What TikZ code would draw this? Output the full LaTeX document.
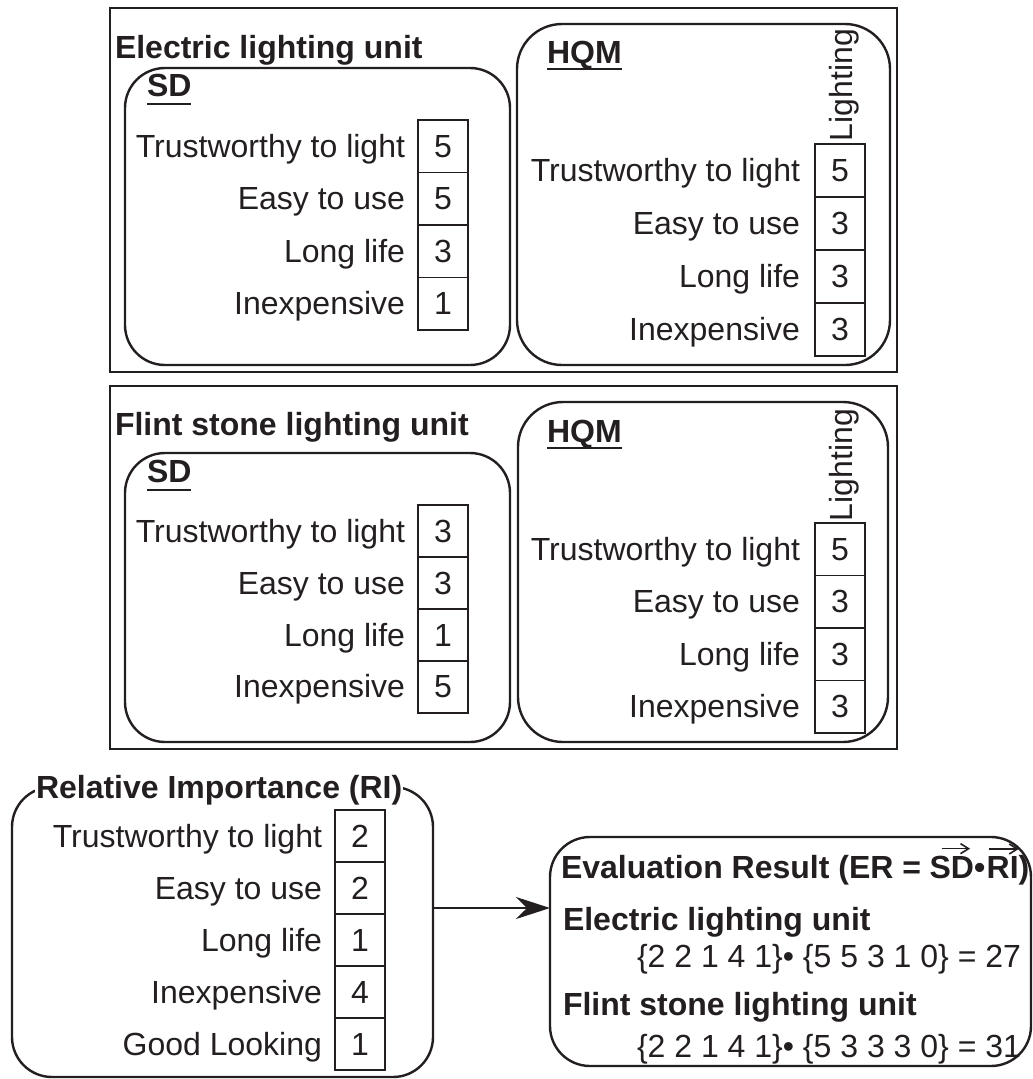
\documentclass[tikz,border=0pt]{standalone}
\usepackage{fontspec}
\setmainfont{Liberation Sans}
\usetikzlibrary{arrows.meta,calc}
\definecolor{ink}{HTML}{231F20}

\begin{document}
\begin{tikzpicture}[x=1pt,y=-1pt,
  every node/.style={inner sep=0pt, outer sep=0pt, text=ink, font=\fontsize{32}{38}\selectfont},
  frame/.style={draw=ink, line width=2pt, anchor=north west},
  roundbox/.style={draw=ink, line width=2.4pt, rounded corners=40pt, anchor=north west},
  head/.style={font=\fontsize{32}{38}\selectfont\bfseries, anchor=base west},
  lbl/.style={anchor=base east},
  cell/.style={draw=ink, line width=1.6pt, minimum width=50pt, anchor=north west},
  ul/.style={draw=ink, line width=2pt},
  vec/.style={draw=ink, line width=1.6pt, -{Straight Barb[length=8pt,width=10pt]}},
  flow/.style={draw=ink, line width=2.2pt, -{Stealth[length=34pt,width=22pt,inset=11pt]}}
]
\useasboundingbox (0,0) rectangle (1033,1079);

% ---------- electric lighting unit ----------
\node[frame, minimum width=787pt, minimum height=364pt] (p1) at (110,8) {};
\node[head] (p1t) at (115,58) {Electric lighting unit};
\node[roundbox, minimum width=385pt, minimum height=297pt] (sd1) at (125,68) {};
\node[head] (sd1h) at (147,96) {SD};
\draw[ul] ([yshift=-8pt]sd1h.base west) -- ([yshift=-8pt]sd1h.base east);
\foreach \t/\v [count=\i from 0] in {Trustworthy to light/5, Easy to use/5, Long life/3, Inexpensive/1}{
  \node[cell, minimum height=52.5pt] (sd1c\i) at (418,120+52.5*\i) {\v};
  \node[lbl] (sd1l\i) at ([xshift=-13pt]sd1c\i.base west) {\t};
}
\node[roundbox, rounded corners=45pt, minimum width=373pt, minimum height=341pt] (hq1) at (517,24) {};
\node[head] (hq1h) at (547,63) {HQM};
\draw[ul] ([yshift=-6pt]hq1h.base west) -- ([yshift=-6pt]hq1h.base east);
\foreach \t/\v [count=\i from 0] in {Trustworthy to light/5, Easy to use/3, Long life/3, Inexpensive/3}{
  \node[cell, minimum height=53pt] (hq1c\i) at (815,144+53*\i) {\v};
  \node[lbl] (hq1l\i) at ([xshift=-15pt]hq1c\i.base west) {\t};
}
\node[rotate=90, anchor=base west] (hq1v) at (852,141) {Lighting};

% ---------- flint stone lighting unit ----------
\node[frame, minimum width=787pt, minimum height=363pt] (p2) at (110,386) {};
\node[head] (p2t) at (115,435) {Flint stone lighting unit};
\node[roundbox, minimum width=385pt, minimum height=289pt] (sd2) at (125,453) {};
\node[head] (sd2h) at (147,482) {SD};
\draw[ul] ([yshift=-8pt]sd2h.base west) -- ([yshift=-8pt]sd2h.base east);
\foreach \t/\v [count=\i from 0] in {Trustworthy to light/3, Easy to use/3, Long life/1, Inexpensive/5}{
  \node[cell, minimum height=52pt] (sd2c\i) at (418,505+52*\i) {\v};
  \node[lbl] (sd2l\i) at ([xshift=-13pt]sd2c\i.base west) {\t};
}
\node[roundbox, rounded corners=45pt, minimum width=370pt, minimum height=340pt] (hq2) at (518,402) {};
\node[head] (hq2h) at (547,442) {HQM};
\draw[ul] ([yshift=-6pt]hq2h.base west) -- ([yshift=-6pt]hq2h.base east);
\foreach \t/\v [count=\i from 0] in {Trustworthy to light/5, Easy to use/3, Long life/3, Inexpensive/3}{
  \node[cell, minimum height=52.5pt] (hq2c\i) at (815,523+52.5*\i) {\v};
  \node[lbl] (hq2l\i) at ([xshift=-15pt]hq2c\i.base west) {\t};
}
\node[rotate=90, anchor=base west] (hq2v) at (852,521) {Lighting};

% ---------- relative importance ----------
\node[roundbox, minimum width=421pt, minimum height=290pt] (ri) at (12,787) {};
\node[head, fill=white, inner xsep=1pt] (rih) at (35,798) {Relative Importance (RI)};
\foreach \t/\v [count=\i from 0] in {Trustworthy to light/2, Easy to use/2, Long life/1, Inexpensive/4, Good Looking/1}{
  \node[cell, minimum height=52pt] (ric\i) at (335,810+52*\i) {\v};
  \node[lbl] (ril\i) at ([xshift=-13pt]ric\i.base west) {\t};
}

% ---------- evaluation result ----------
\node[roundbox, minimum width=481pt, minimum height=229pt] (er) at (550,837) {};
\node[head] (ert) at (561,878) {Evaluation Result (ER =};
\node[head] (ersd) at ([xshift=8.5pt]ert.base east) {SD};
\node[head] (erdot) at (ersd.base east) {•};
\node[head] (erri) at ([xshift=1.5pt]erdot.base east) {RI};
\node[head] (erp) at (erri.base east) {)};
\draw[vec] ([shift={(12pt,7pt)}]ersd.north west) -- ([shift={(-4pt,7pt)}]ersd.north east);
\draw[vec] ([shift={(2pt,7pt)}]erri.north west) -- ([shift={(0pt,7pt)}]erri.north east);
\node[head] (er1) at (563,930) {Electric lighting unit};
\node[anchor=base west] (er1v) at (637,967) {\{2 2 1 4 1\}• \{5 5 3 1 0\} = 27};
\node[head] (er2) at (563,1015) {Flint stone lighting unit};
\node[anchor=base west] (er2v) at (637,1057) {\{2 2 1 4 1\}• \{5 3 3 3 0\} = 31};

% ---------- flow from importance to result ----------
\coordinate (fy) at (0,908);
\draw[flow] (ri.east |- fy) -- (er.west |- fy);
\end{tikzpicture}
\end{document}
